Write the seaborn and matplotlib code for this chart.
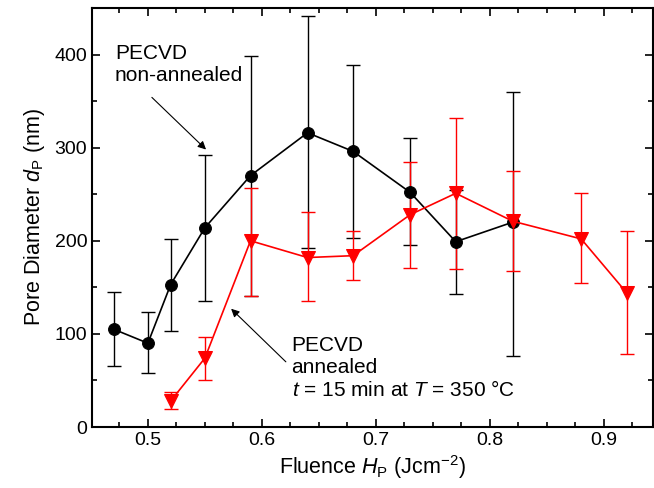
import numpy as np
import pandas as pd
import matplotlib
matplotlib.use("Agg")
import matplotlib.pyplot as plt
import seaborn as sns
from matplotlib.ticker import MultipleLocator

sns.set_style("ticks")
plt.rcParams['font.family'] = ['Liberation Sans', 'DejaVu Sans']
plt.rcParams['mathtext.fontset'] = 'custom'
plt.rcParams['mathtext.rm'] = 'Liberation Sans'
plt.rcParams['mathtext.it'] = 'Liberation Sans:italic'
for k in ['text.color', 'axes.labelcolor', 'xtick.color', 'ytick.color']:
    plt.rcParams[k] = 'black'

# non-annealed PECVD (black circles)
fluence_na = [0.47, 0.50, 0.52, 0.55, 0.59, 0.64, 0.68, 0.73, 0.77, 0.82]
dp_na = [105, 90, 153, 214, 270, 316, 296, 252, 199, 220]
lo_na = [65, 58, 103, 135, 141, 192, 203, 196, 143, 76]
hi_na = [145, 124, 202, 292, 398, 441, 389, 310, 255, 360]

# annealed PECVD (red triangles)
fluence_an = [0.52, 0.55, 0.59, 0.64, 0.68, 0.73, 0.77, 0.82, 0.88, 0.92]
dp_an = [28, 74, 200, 182, 184, 228, 251, 221, 202, 144]
lo_an = [19, 51, 141, 135, 158, 171, 170, 168, 155, 78]
hi_an = [38, 97, 257, 231, 211, 285, 332, 275, 251, 211]

df_na = pd.DataFrame({'x': fluence_na, 'y': dp_na})
df_an = pd.DataFrame({'x': fluence_an, 'y': dp_an})

fig = plt.figure(figsize=(6.54, 4.88), dpi=100)
ax = fig.add_axes([0.1407, 0.125, 0.8578, 0.8586])

for xs, ys, lo, hi, col in [(fluence_na, dp_na, lo_na, hi_na, 'black'),
                            (fluence_an, dp_an, lo_an, hi_an, 'red')]:
    ys = np.array(ys)
    yerr = [ys - np.array(lo), np.array(hi) - ys]
    ax.errorbar(xs, ys, yerr=yerr, fmt='none', ecolor=col, elinewidth=1,
                capsize=5, capthick=1, zorder=2)

sns.lineplot(data=df_na, x='x', y='y', ax=ax, color='black', marker='o',
             markersize=8.5, markeredgecolor='black', linewidth=1.2, zorder=3)
sns.lineplot(data=df_an, x='x', y='y', ax=ax, color='red', marker='v',
             markersize=9.5, markeredgecolor='red', linewidth=1.2, zorder=3)

ax.set_xlim(0.451, 0.943)
ax.set_ylim(0, 450)
ax.xaxis.set_major_locator(MultipleLocator(0.1))
ax.xaxis.set_minor_locator(MultipleLocator(0.025))
ax.yaxis.set_major_locator(MultipleLocator(100))
ax.yaxis.set_minor_locator(MultipleLocator(50))
ax.tick_params(which='both', direction='in', top=True, right=True,
               labelsize=14, width=1.2, colors='black')
ax.tick_params(which='major', length=6)
ax.tick_params(which='minor', length=3.5)
for s in ax.spines.values():
    s.set_linewidth(1.5)
    s.set_color('black')

ax.set_xlabel(r'Fluence $H_\mathrm{P}$ (Jcm$^{-2}$)', fontsize=15.5, labelpad=3)
ax.set_ylabel(r'Pore Diameter $d_\mathrm{P}$ (nm)', fontsize=15.5, labelpad=5)

ax.text(0.471, 411, 'PECVD\nnon-annealed', fontsize=15, ha='left', va='top',
        linespacing=1.2)
ax.annotate('', xy=(0.551, 298), xytext=(0.5035, 354),
            arrowprops=dict(arrowstyle='-|>', color='black', lw=0.8,
                            shrinkA=0, shrinkB=0, mutation_scale=12))
ax.text(0.626, 98, 'PECVD\nannealed\n$t$ = 15 min at $T$ = 350 °C',
        fontsize=15, ha='left', va='top', linespacing=1.2)
ax.annotate('', xy=(0.573, 127), xytext=(0.621, 70),
            arrowprops=dict(arrowstyle='-|>', color='black', lw=0.8,
                            shrinkA=0, shrinkB=0, mutation_scale=12))

fig.savefig('out.png', dpi=100)
